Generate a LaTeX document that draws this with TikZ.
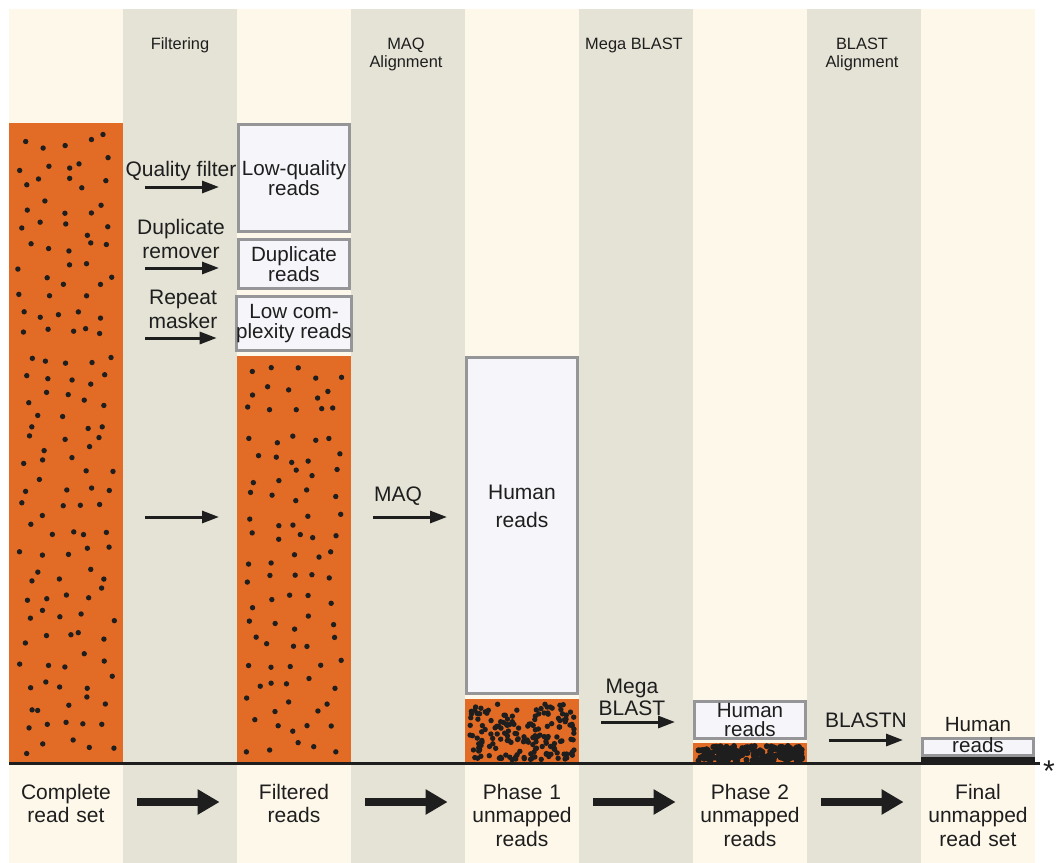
\documentclass[tikz,border=0pt]{standalone}
\usepackage{fontspec}
\setmainfont{Liberation Sans}
\usetikzlibrary{positioning, arrows.meta, calc}

\definecolor{creamcol}{RGB}{254,248,235}
\definecolor{graycol}{RGB}{229,227,214}
\definecolor{readorange}{RGB}{226,108,38}
\definecolor{boxgray}{RGB}{150,150,152}
\definecolor{boxfill}{RGB}{245,245,250}
\definecolor{inkcol}{RGB}{30,30,30}

\begin{document}
\begin{tikzpicture}[
    x=0.5pt, y=-0.5pt,
    bar/.style={fill=readorange, minimum width=57pt, inner sep=0pt, outer sep=0pt},
    readbox/.style={draw=boxgray, line width=1.5pt, fill=boxfill, minimum width=55.5pt, inner sep=0pt, align=center, font=\fontsize{10.3}{10}\selectfont, text=inkcol},
    steplabel/.style={align=center, font=\fontsize{8.2}{9}\selectfont, text=inkcol},
    toollabel/.style={align=center, font=\fontsize{10.5}{12}\selectfont, text=inkcol},
    setlabel/.style={align=center, text width=57pt, inner xsep=0pt, anchor=north, font=\fontsize{10.5}{11.75}\selectfont, text=inkcol},
    arrow/.style={-{Triangle[length=8.5pt, width=6pt]}, line width=1.5pt, draw=inkcol, shorten <=11pt, shorten >=9pt},
    bigarrow/.style={-{Triangle[length=11pt, width=12pt]}, line width=4pt, draw=inkcol, shorten <=7pt, shorten >=8.5pt},
    dot/.style={fill=inkcol},
]

% Page and columns
\fill[white] (0,0) rectangle (1056,863);
\useasboundingbox (0,0) rectangle (1056,863);
\foreach \c in {0,2,4,6,8}
    \fill[creamcol] ({9+114*\c},9) rectangle ++(114,854);
\foreach \c in {1,3,5,7}
    \fill[graycol] ({9+114*\c},9) rectangle ++(114,854);

% Column headers
\node[steplabel] (filtering) at (180,45) {Filtering};
\node[steplabel] (maqalign) at (406,54) {MAQ\\Alignment};
\node[steplabel] (megablast) at (634,45) {Mega BLAST};
\node[steplabel] (blastalign) at (862,54) {BLAST\\Alignment};

% Read sets
\node[bar, minimum height=320pt] (allreads) at (66,443) {};
\node[bar, minimum height=203.5pt] (filtreads) at (294,559.5) {};
\node[bar, minimum height=32pt] (phaseone) at (522,731) {};
\node[bar, minimum height=10pt] (phasetwo) at (750,753) {};
\node[bar, fill=inkcol, minimum height=3pt] (finalset) at (978,760) {};

% Dots in the read sets
\pgfmathsetseed{42}
\foreach \r in {0,...,28}
    \foreach \c in {0,...,4}
        \fill[dot] ({25+20.4*\c+8*rand},{141+21.6*\r+8*rand}) circle (2.7);
\foreach \r in {0,...,18}
    \foreach \c in {0,...,4}
        \fill[dot] ({253+20.4*\c+8*rand},{373+20.7*\r+8*rand}) circle (2.7);
\foreach \i in {1,...,170}
    \fill[dot] ({470+104*rnd},{704+56*rnd}) circle (2.7);
\foreach \i in {1,...,190}
    \fill[dot] ({697+106*rnd},{746+15*rnd}) circle (3);

% Removed reads
\node[readbox, minimum height=53.5pt] (lowqual) at (294,178) {Low-quality\\reads};
\node[readbox, minimum height=24.5pt] (dupreads) at (294,264) {Duplicate\\reads};
\node[readbox, minimum height=27pt] (lowcompl) at (294,323.5) {Low com-\\plexity reads};
\node[readbox, minimum height=168pt] (humanone) at (522,525.5) {};
\node[toollabel, font=\fontsize{10.5}{14}\selectfont] (humanonetxt) at (522,506) {Human\\reads};
\node[readbox, minimum height=18.5pt, font=\fontsize{10.3}{9.5}\selectfont] (humantwo) at (750,720) {Human\\reads};
\node[readbox, minimum height=8.5pt] (humanthree) at (978,747) {};
\node[toollabel, font=\fontsize{10.3}{10.5}\selectfont] (humanthreetxt) at (978,735) {Human\\reads};

% Tools
\node[toollabel] (qualfilter) at (181,171) {Quality filter};
\node[toollabel] (duprem) at (181,239) {Duplicate\\remover};
\node[toollabel] (repmask) at (183,309) {Repeat\\masker};
\node[toollabel] (maqtool) at (398,496) {MAQ};
\node[toollabel, font=\fontsize{10.5}{11}\selectfont] (megatool) at (632,697) {Mega\\BLAST};
\node[toollabel] (blastn) at (866,720) {BLASTN};

\draw[arrow] (allreads.east |- 0,187) -- (lowqual.west |- 0,187);
\draw[arrow] (allreads.east |- 0,268) -- (dupreads.west |- 0,268);
\draw[arrow] (allreads.east |- 0,338) -- (lowcompl.west |- 0,338);
\draw[arrow] (allreads.east |- 0,517) -- (filtreads.west |- 0,517);
\draw[arrow] (filtreads.east |- 0,517) -- (humanone.west |- 0,517);
\draw[arrow] (phaseone.east |- 0,722) -- (humantwo.west |- 0,722);
\draw[arrow] (phasetwo.east |- 0,740) -- (humanthree.west |- 0,740);

% Base line
\draw[line width=1.5pt, inkcol] (9,763) -- (1040,763);
\node[toollabel, font=\fontsize{15}{15}\selectfont] (asterisk) at (1049,771) {*};

% Read set names
\node[setlabel] (completeset) at (66,777) {Complete\\read set};
\node[setlabel] (filteredset) at (294,777) {Filtered\\reads};
\node[setlabel] (phaseoneset) at (522,777) {Phase 1\\unmapped\\reads};
\node[setlabel] (phasetwoset) at (750,777) {Phase 2\\unmapped\\reads};
\node[setlabel] (finalunmapped) at (978,777) {Final\\unmapped\\read set};

\draw[bigarrow] (completeset.east |- 0,802) -- (filteredset.west |- 0,802);
\draw[bigarrow] (filteredset.east |- 0,802) -- (phaseoneset.west |- 0,802);
\draw[bigarrow] (phaseoneset.east |- 0,802) -- (phasetwoset.west |- 0,802);
\draw[bigarrow] (phasetwoset.east |- 0,802) -- (finalunmapped.west |- 0,802);

\end{tikzpicture}
\end{document}
